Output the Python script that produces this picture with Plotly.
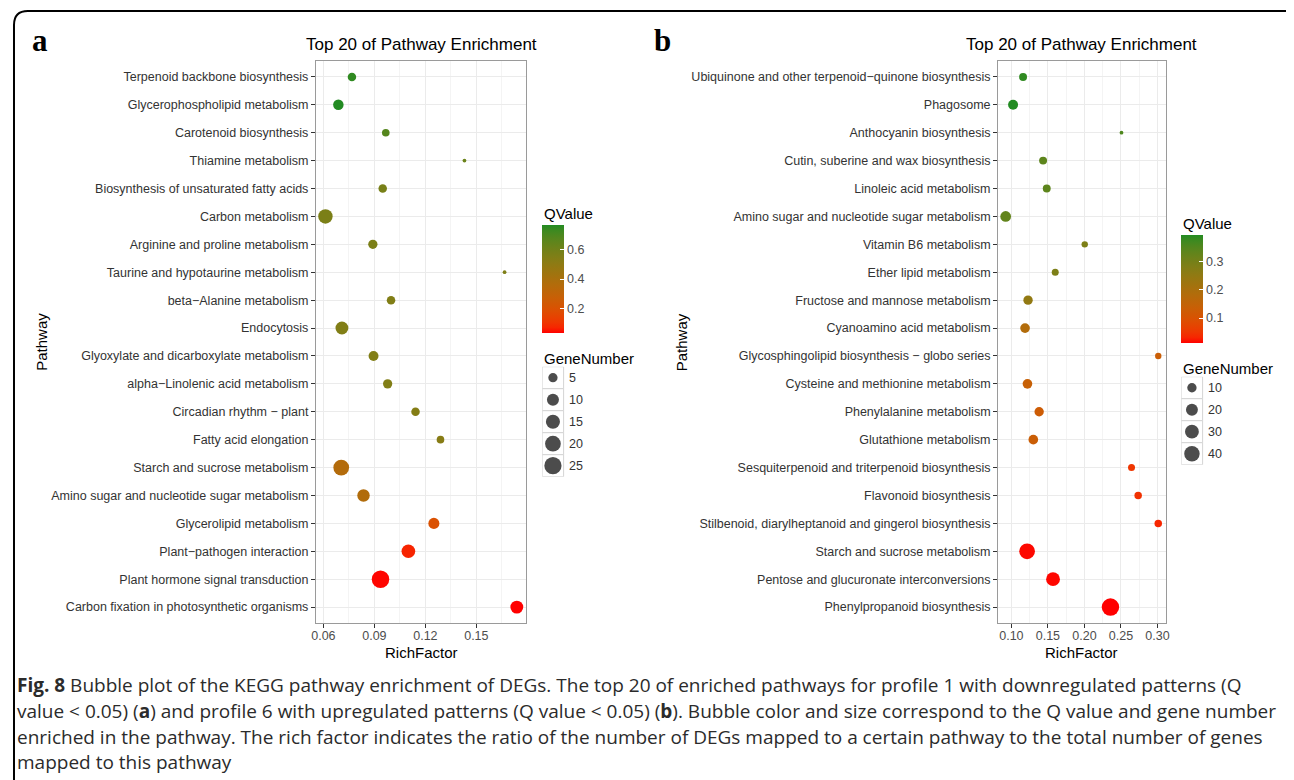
import numpy as np
import plotly.graph_objects as go

# ---------------- data ----------------
path_a = [
    "Terpenoid backbone biosynthesis",
    "Glycerophospholipid metabolism",
    "Carotenoid biosynthesis",
    "Thiamine metabolism",
    "Biosynthesis of unsaturated fatty acids",
    "Carbon metabolism",
    "Arginine and proline metabolism",
    "Taurine and hypotaurine metabolism",
    "beta\u2212Alanine metabolism",
    "Endocytosis",
    "Glyoxylate and dicarboxylate metabolism",
    "alpha\u2212Linolenic acid metabolism",
    "Circadian rhythm \u2212 plant",
    "Fatty acid elongation",
    "Starch and sucrose metabolism",
    "Amino sugar and nucleotide sugar metabolism",
    "Glycerolipid metabolism",
    "Plant\u2212pathogen interaction",
    "Plant hormone signal transduction",
    "Carbon fixation in photosynthetic organisms",
]
rich_a = [0.0768, 0.0688, 0.0967, 0.1430, 0.0949, 0.0612, 0.0891, 0.1666, 0.0998, 0.0709,
          0.0895, 0.0978, 0.1142, 0.1289, 0.0705, 0.0836, 0.1250, 0.1100, 0.0936, 0.1738]
gene_a = [4, 7, 3, 1, 4, 16, 5, 1, 4, 12, 6, 5, 4, 3, 20, 11, 8, 14, 26, 12]
q_a = [0.75, 0.77, 0.68, 0.62, 0.58, 0.57, 0.57, 0.56, 0.55, 0.55,
       0.55, 0.55, 0.54, 0.53, 0.36, 0.37, 0.20, 0.07, 0.04, 0.035]

path_b = [
    "Ubiquinone and other terpenoid\u2212quinone biosynthesis",
    "Phagosome",
    "Anthocyanin biosynthesis",
    "Cutin, suberine and wax biosynthesis",
    "Linoleic acid metabolism",
    "Amino sugar and nucleotide sugar metabolism",
    "Vitamin B6 metabolism",
    "Ether lipid metabolism",
    "Fructose and mannose metabolism",
    "Cyanoamino acid metabolism",
    "Glycosphingolipid biosynthesis \u2212 globo series",
    "Cysteine and methionine metabolism",
    "Phenylalanine metabolism",
    "Glutathione metabolism",
    "Sesquiterpenoid and triterpenoid biosynthesis",
    "Flavonoid biosynthesis",
    "Stilbenoid, diarylheptanoid and gingerol biosynthesis",
    "Starch and sucrose metabolism",
    "Pentose and glucuronate interconversions",
    "Phenylpropanoid biosynthesis",
]
rich_b = [0.116, 0.1023, 0.2507, 0.1434, 0.1484, 0.0922, 0.2004, 0.160, 0.1228, 0.1187,
          0.301, 0.122, 0.138, 0.130, 0.2644, 0.2735, 0.301, 0.1215, 0.157, 0.2356]
gene_b = [6, 12, 1, 6, 6, 15, 3, 4, 10, 11, 3, 11, 10, 11, 4, 5, 5, 42, 30, 55]
q_b = [0.385, 0.395, 0.357, 0.338, 0.338, 0.33, 0.288, 0.288, 0.25, 0.185,
       0.135, 0.14, 0.128, 0.135, 0.05, 0.044, 0.032, 0.017, 0.016, 0.013]

size_breaks_a = [5, 10, 15, 20, 25]
size_breaks_b = [10, 20, 30, 40]
q_ticks_a = [0.2, 0.4, 0.6]
q_ticks_b = [0.1, 0.2, 0.3]
xticks_a = dict(tick0=0.06, dtick=0.03)
xticks_b = dict(tick0=0.10, dtick=0.05)

title_text = "Top 20 of Pathway Enrichment"
caption_lines = [
    "<b>Fig. 8</b> Bubble plot of the KEGG pathway enrichment of DEGs. The top 20 of enriched pathways for profile 1 with downregulated patterns (Q",
    "value &lt; 0.05) (<b>a</b>) and profile 6 with upregulated patterns (Q value &lt; 0.05) (<b>b</b>). Bubble color and size correspond to the Q value and gene number",
    "enriched in the pathway. The rich factor indicates the ratio of the number of DEGs mapped to a certain pathway to the total number of genes",
    "mapped to this pathway",
]

# ---------------- helpers ----------------
W, H = 1294, 780          # window size
OFF = 8                   # page body margin
FW, FH = W - OFF, H - OFF  # figure size that fits the window


def px(x):
    return (x - OFF) / FW


def py(y):
    return 1 - (y - OFF) / FH


def _lab(rgb):
    c = np.array(rgb, float) / 255
    c = np.where(c <= 0.04045, c / 12.92, ((c + 0.055) / 1.055) ** 2.4)
    M = np.array([[0.4124, 0.3576, 0.1805], [0.2126, 0.7152, 0.0722], [0.0193, 0.1192, 0.9505]])
    xyz = M @ c / np.array([0.95047, 1.0, 1.08883])
    d = 6 / 29
    f = np.where(xyz > d ** 3, np.cbrt(xyz), xyz / (3 * d * d) + 4 / 29)
    return np.array([116 * f[1] - 16, 500 * (f[0] - f[1]), 200 * (f[1] - f[2])])


def _rgb(lab):
    L, a, b = lab
    fy = (L + 16) / 116
    f = np.array([fy + a / 500, fy, fy - b / 200])
    d = 6 / 29
    xyz = np.where(f > d, f ** 3, 3 * d * d * (f - 4 / 29)) * np.array([0.95047, 1.0, 1.08883])
    Mi = np.linalg.inv(np.array([[0.4124, 0.3576, 0.1805], [0.2126, 0.7152, 0.0722], [0.0193, 0.1192, 0.9505]]))
    c = Mi @ xyz
    c = np.where(c <= 0.0031308, 12.92 * c, 1.055 * np.abs(c) ** (1 / 2.4) - 0.055)
    c = np.clip(c, 0, 1) * 255
    return "rgb(%d,%d,%d)" % tuple(np.round(c).astype(int))


lo_lab, hi_lab = _lab((255, 0, 0)), _lab((34, 139, 34))
colorscale = [[t, _rgb(lo_lab + (hi_lab - lo_lab) * t)] for t in np.linspace(0, 1, 21)]


def gg_size(v, vmin, vmax):
    r = (np.asarray(v, float) - vmin) / (vmax - vmin)
    r = np.clip(r, 0, 1)
    return 2.75 * (1 + 5 * np.sqrt(r)) + 1.0


def expand(vals, f=0.05):
    lo, hi = min(vals), max(vals)
    d = hi - lo
    return [lo - f * d, hi + f * d]


FONT = "Liberation Sans"
TICK_COL = "#4D4D4D"
fig = go.Figure()

panels = [
    dict(path=path_a, rich=rich_a, gene=gene_a, q=q_a, breaks=size_breaks_a, qt=q_ticks_a,
         xt=xticks_a, x0=313, x1=525, leg_x=541, cb_top=224.3, cb_bot=332.7, gn_title=358,
         key_top=366.7, ca="coloraxis", ax="", letter="a", letter_x=25, ylab_x=36),
    dict(path=path_b, rich=rich_b, gene=gene_b, q=q_b, breaks=size_breaks_b, qt=q_ticks_b,
         xt=xticks_b, x0=1000, x1=1169, leg_x=1184.5, cb_top=234.3, cb_bot=342.7, gn_title=368,
         key_top=376.7, ca="coloraxis2", ax="2", letter="b", letter_x=651, ylab_x=681),
]
Y0, Y1 = 61, 623
KEY = 22
annotations = []
shapes = []

for i, p in enumerate(panels):
    n = len(p["path"])
    gmin, gmax = min(p["gene"]), max(p["gene"])
    xa = "x" + p["ax"]
    ya = "y" + p["ax"]
    fig.add_trace(go.Scatter(
        x=p["rich"], y=p["path"], mode="markers", xaxis=xa, yaxis=ya, showlegend=False,
        cliponaxis=False,
        marker=dict(size=gg_size(p["gene"], gmin, gmax), color=p["q"], coloraxis=p["ca"],
                    line=dict(width=0), opacity=1),
        hovertemplate="%{y}<br>RichFactor=%{x}<extra></extra>"))

    axis_common = dict(showline=True, mirror=True, linecolor="#9A9A9A", linewidth=1,
                       ticks="outside", ticklen=4, tickwidth=1, tickcolor="#333333",
                       tickfont=dict(family=FONT, size=12.5, color=TICK_COL),
                       showgrid=True, gridcolor="#EBEBEB", gridwidth=1, zeroline=False)
    fig.layout["xaxis" + p["ax"]] = dict(
        axis_common, domain=[px(p["x0"]), px(p["x1"])], anchor=ya, range=expand(p["rich"]),
        tick0=p["xt"]["tick0"], dtick=p["xt"]["dtick"], tickformat=".2f", ticklabelstandoff=-3,
        minor=dict(dtick=p["xt"]["dtick"] / 2, showgrid=True, gridcolor="#F4F4F4", gridwidth=0.6))
    fig.layout["yaxis" + p["ax"]] = dict(
        axis_common, domain=[py(Y1), py(Y0)], anchor=xa, type="category",
        categoryorder="array", categoryarray=p["path"], range=[n - 1 + 0.57, -0.57],
        tickfont=dict(family=FONT, size=12.5, color="#333333"))

    fig.layout[p["ca"]] = dict(
        colorscale=colorscale,
        colorbar=dict(x=px(p["leg_x"]), xanchor="left", xpad=0, ypad=0,
                      y=py(p["cb_bot"]), yanchor="bottom", lenmode="pixels",
                      len=p["cb_bot"] - p["cb_top"], thicknessmode="pixels", thickness=22,
                      outlinewidth=0, tickvals=p["qt"], ticks="inside", ticklen=4,
                      tickcolor="white", tickwidth=1,
                      tickfont=dict(family=FONT, size=12.5, color=TICK_COL)))

    # size legend in its own small axis
    lx = "x" + str(3 + i)
    ly = "y" + str(3 + i)
    nb = len(p["breaks"])
    fig.layout["xaxis" + str(3 + i)] = dict(domain=[px(p["leg_x"]), px(p["leg_x"] + 60)],
                                            range=[0, 60], visible=False, anchor=ly)
    fig.layout["yaxis" + str(3 + i)] = dict(domain=[py(p["key_top"] + KEY * nb), py(p["key_top"])],
                                            range=[KEY * nb, 0], visible=False, anchor=lx)
    for k, b in enumerate(p["breaks"]):
        shapes.append(dict(type="rect", xref=lx, yref=ly, x0=0, x1=21.5, y0=KEY * k, y1=KEY * (k + 1),
                           line=dict(color="#D4D4D4", width=1), fillcolor="white", layer="below"))
        annotations.append(dict(xref=lx, yref=ly, x=24.5, y=KEY * k + KEY / 2, text=str(b),
                                showarrow=False, xanchor="left", yanchor="middle",
                                font=dict(family=FONT, size=12.5, color="#333333")))
    fig.add_trace(go.Scatter(
        x=[10.75] * nb, y=[KEY * k + KEY / 2 for k in range(nb)], mode="markers",
        xaxis=lx, yaxis=ly, showlegend=False, hoverinfo="skip", cliponaxis=False,
        marker=dict(size=gg_size(p["breaks"], gmin, gmax), color="black", line=dict(width=0))))

    cx = (p["x0"] + p["x1"]) / 2
    annotations += [
        dict(xref="paper", yref="paper", x=px(cx), y=py(45), text=title_text, showarrow=False,
             xanchor="center", yanchor="middle", font=dict(family=FONT, size=17, color="black")),
        dict(xref="paper", yref="paper", x=px(cx), y=py(652), text="RichFactor", showarrow=False,
             xanchor="center", yanchor="middle", font=dict(family=FONT, size=15, color="black")),
        dict(xref="paper", yref="paper", x=px(p["ylab_x"]), y=py((Y0 + Y1) / 2), text="Pathway",
             showarrow=False, textangle=-90, xanchor="center", yanchor="middle",
             font=dict(family=FONT, size=15, color="black")),
        dict(xref="paper", yref="paper", x=px(p["leg_x"]), y=py(p["cb_top"] - 11), text="QValue",
             showarrow=False, xanchor="left", yanchor="middle",
             font=dict(family=FONT, size=15, color="black")),
        dict(xref="paper", yref="paper", x=px(p["leg_x"]), y=py(p["gn_title"]), text="GeneNumber",
             showarrow=False, xanchor="left", yanchor="middle",
             font=dict(family=FONT, size=15, color="black")),
        dict(xref="paper", yref="paper", x=px(p["letter_x"]), y=py(40), text="<b>%s</b>" % p["letter"],
             showarrow=False, xanchor="left", yanchor="middle",
             font=dict(family="Liberation Serif", size=31, color="black")),
    ]

cap_y = [685, 710.5, 736.5, 762]
for yy, line in zip(cap_y, caption_lines):
    annotations.append(dict(xref="paper", yref="paper", x=px(10), y=py(yy), text=line,
                            showarrow=False, xanchor="left", yanchor="middle",
                            font=dict(family="Open Sans", size=19, color="#2b2b2b")))

# rounded frame (top and left edges visible)
r = 14
fx, fy = 9, 11
frame = "M {a} {b} L {a} {c} Q {a} {d} {e} {d} L {f} {d}".format(
    a=px(fx), b=py(H + 10), c=py(fy + r), d=py(fy), e=px(fx + r), f=px(W + 10))
shapes.append(dict(type="path", xref="paper", yref="paper", path=frame,
                   line=dict(color="black", width=2)))

fig.update_layout(
    width=FW, height=FH, margin=dict(l=0, r=0, t=0, b=0),
    paper_bgcolor="white", plot_bgcolor="white",
    annotations=annotations, shapes=shapes, showlegend=False,
)
fig.write_html("out.html")
